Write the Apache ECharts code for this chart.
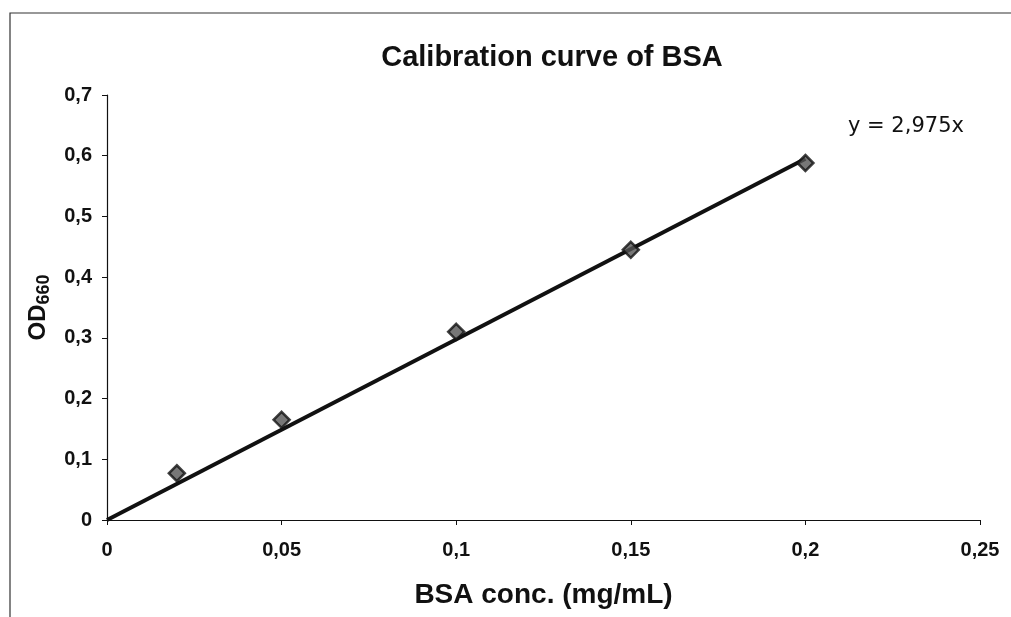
<!DOCTYPE html>
<html>
<head>
<meta charset="utf-8">
<script src="https://cdn.jsdelivr.net/npm/echarts@6/dist/echarts.min.js"></script>
<style>html,body{margin:0;padding:0;background:#fff}#c{width:1011px;height:617px}</style>
</head>
<body>
<div id="c"></div>
<script>
const concX = [0.02, 0.05, 0.1, 0.15, 0.2];
const odY = [0.077, 0.165, 0.31, 0.445, 0.588];
const trendX = [0, 0.2];
const trendY = [0, 0.595];
const xTicks = ['0', '0,05', '0,1', '0,15', '0,2', '0,25'];
const yTicks = ['0', '0,1', '0,2', '0,3', '0,4', '0,5', '0,6', '0,7'];
const titleText = 'Calibration curve of BSA';
const equationText = 'y = 2,975x';

const F = '"Liberation Sans", Arial, sans-serif';
const chart = echarts.init(document.getElementById('c'));
chart.setOption({
  animation: false,
  backgroundColor: '#fff',
  title: {
    text: titleText, left: 547, top: 38, textAlign: 'center',
    textStyle: {fontFamily: F, fontSize: 29, fontWeight: 'bold', color: '#111'}
  },
  grid: {left: 107, right: 31, top: 95, bottom: 97, containLabel: false},
  xAxis: {
    type: 'value', min: 0, max: 0.25, interval: 0.05,
    name: 'BSA conc. (mg/mL)', nameLocation: 'middle', nameGap: 61,
    nameTextStyle: {fontFamily: F, fontSize: 28, fontWeight: 'bold', color: '#111'},
    axisLine: {lineStyle: {color: '#111', width: 1.2}},
    axisTick: {show: true, length: 5, lineStyle: {color: '#111'}},
    axisLabel: {
      margin: 20, fontFamily: F, fontSize: 20, fontWeight: 'bold', color: '#111',
      formatter: (v) => xTicks[Math.round(v / 0.05)]
    },
    splitLine: {show: false}
  },
  yAxis: {
    type: 'value', min: 0, max: 0.7, interval: 0.1,
    name: '{a|OD}{b|660}', nameLocation: 'middle', nameGap: 54, nameRotate: 90,
    nameTextStyle: {
      rich: {
        a: {fontFamily: F, fontSize: 24, fontWeight: 'bold', color: '#111'},
        b: {fontFamily: F, fontSize: 18, fontWeight: 'bold', color: '#111', verticalAlign: 'bottom', padding: [12, 0, 0, 0]}
      }
    },
    axisLine: {show: true, lineStyle: {color: '#111', width: 1.2}},
    axisTick: {show: true, length: 5, lineStyle: {color: '#111'}},
    axisLabel: {
      margin: 15, fontFamily: F, fontSize: 20, fontWeight: 'bold', color: '#111',
      formatter: (v) => yTicks[Math.round(v / 0.1)]
    },
    splitLine: {show: false}
  },
  graphic: [
    {type: 'rect', shape: {x: 10, y: 13, width: 1030, height: 640}, style: {fill: 'none', stroke: '#333', lineWidth: 1.2}, silent: true, z: -10},
    {type: 'text', left: 848, top: 116, style: {text: equationText, fontFamily: '"DejaVu Sans", sans-serif', fontSize: 21, fill: '#111'}}
  ],
  series: [
    {
      type: 'line', data: trendX.map((x, i) => [x, trendY[i]]),
      symbol: 'none', lineStyle: {color: '#111', width: 4}, z: 2
    },
    {
      type: 'scatter', data: concX.map((x, i) => [x, odY[i]]),
      symbol: 'diamond', symbolSize: 16,
      itemStyle: {color: '#555', borderColor: '#111', borderWidth: 2.5}, z: 3
    }
  ]
});
</script>
</body>
</html>
